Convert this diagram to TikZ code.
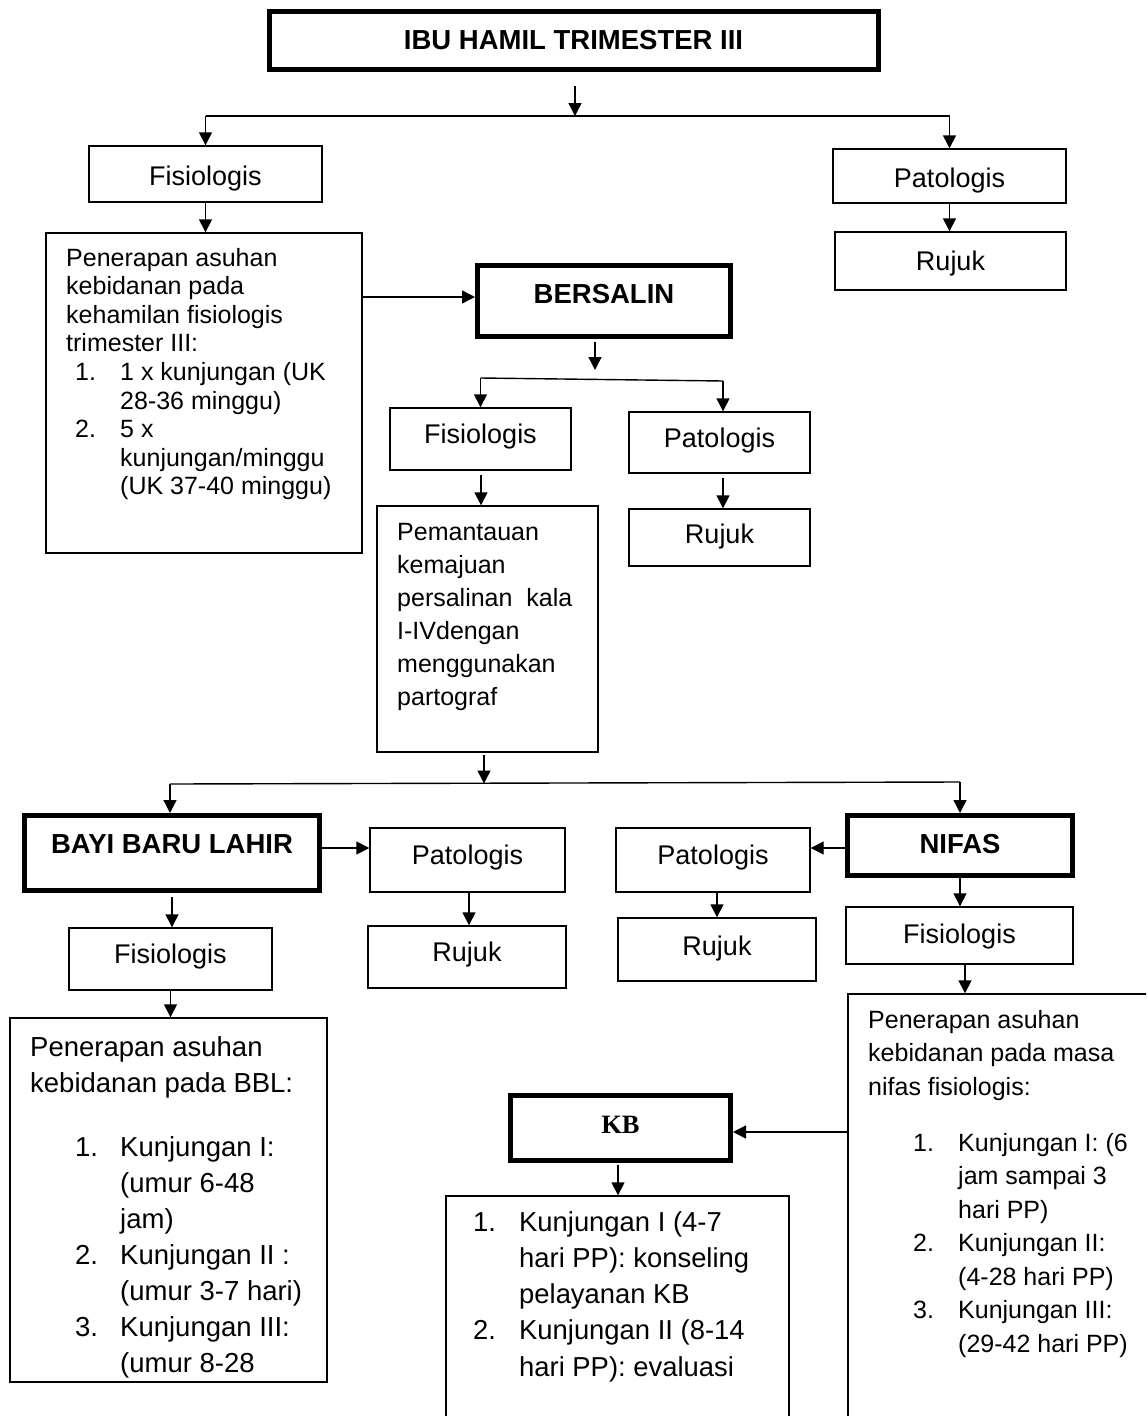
\documentclass[tikz,border=0pt]{standalone}
\usepackage{fontspec}
\setmainfont{Liberation Sans}
\newfontfamily\serifbf{Liberation Serif}
\usetikzlibrary{arrows.meta,fit}
\newcommand\numA[1]{\hspace*{9pt}\makebox[45pt][l]{#1}}
\newcommand\conA{\hspace*{54pt}}
\newcommand\numB[1]{\hspace*{45pt}\makebox[45pt][l]{#1}}
\newcommand\conB{\hspace*{90pt}}
\newcommand\numC[1]{\makebox[46pt][l]{#1}}
\newcommand\conC{\hspace*{46pt}}
\begin{document}
\begin{tikzpicture}[x=1pt,y=-1pt,
  ln/.style={line width=1.4pt},
  bx/.style={draw, line width=1.4pt, rectangle, inner sep=0pt},
  tbx/.style={draw, line width=5pt, rectangle, inner sep=0pt},
  arr/.style={line width=1.4pt, -{Triangle[width=13pt,length=13pt]}},
  lbl/.style={inner sep=0pt, anchor=base, font=\fontsize{27}{32}\selectfont},
  blbl/.style={inner sep=0pt, anchor=base, font=\fontsize{27.5}{32}\selectfont\bfseries},
  txt/.style={inner sep=0pt, anchor=base west}
]
\useasboundingbox (0,0) rectangle (1146,1416);
\clip (0,0) rectangle (1146,1416);

% ---------- boxes ----------
\node[tbx, fit={(269.5,11.5) (878.5,69.5)}] (ibu) {};
\node[bx, fit={(89,146) (322,202)}] (fis1) {};
\node[bx, fit={(833,149) (1066,203)}] (pat1) {};
\node[bx, fit={(835,232) (1066,290)}] (rujuk1) {};
\node[bx, fit={(46,233) (362,553)}] (lbox) {};
\node[tbx, fit={(477.5,265.5) (730.5,336.5)}] (bers) {};
\node[bx, fit={(390,408) (571,470)}] (fis2) {};
\node[bx, fit={(629,412) (810,473)}] (pat2) {};
\node[bx, fit={(377,506) (598,752)}] (pem) {};
\node[bx, fit={(629,509) (810,566)}] (rujuk2) {};
\node[tbx, fit={(24.5,815.5) (319.5,890.5)}] (bayi) {};
\node[bx, fit={(370,828) (565,892)}] (pat3) {};
\node[bx, fit={(368,926) (566,988)}] (rujuk3) {};
\node[bx, fit={(69,928) (272,990)}] (fis3) {};
\node[bx, fit={(10,1018) (327,1382)}] (bbl) {};
\node[bx, fit={(616,828) (810,892)}] (pat4) {};
\node[bx, fit={(618,918) (816,981)}] (rujuk4) {};
\node[tbx, fit={(847.5,815.5) (1072.5,875.5)}] (nifas) {};
\node[bx, fit={(846,907) (1073,964)}] (fis4) {};
\node[bx, fit={(848,994) (1170,1440)}] (nifasc) {};
\node[tbx, fit={(510.5,1095.5) (730.5,1160.5)}] (kb) {};
\node[bx, fit={(446,1196) (789,1440)}] (kbc) {};

% ---------- labels ----------
\node[blbl] (ibut) at (573.5,49) {IBU HAMIL TRIMESTER III};
\node[lbl] (fis1t) at (205.5,185) {Fisiologis};
\node[lbl] (pat1t) at (949.5,187) {Patologis};
\node[lbl] (rujuk1t) at (950.5,270) {Rujuk};
\node[blbl] (berst) at (604,303) {BERSALIN};
\node[lbl] (fis2t) at (480.5,443) {Fisiologis};
\node[lbl] (pat2t) at (719.5,447) {Patologis};
\node[lbl] (rujuk2t) at (719.5,543) {Rujuk};
\node[blbl] (bayit) at (172,853) {BAYI BARU LAHIR};
\node[lbl] (pat3t) at (467.5,864) {Patologis};
\node[lbl] (rujuk3t) at (467,961) {Rujuk};
\node[lbl] (fis3t) at (170.5,963) {Fisiologis};
\node[lbl] (pat4t) at (713,864) {Patologis};
\node[lbl] (rujuk4t) at (717,955) {Rujuk};
\node[blbl] (nifast) at (960,853) {NIFAS};
\node[lbl] (fis4t) at (959.5,943) {Fisiologis};
\node[inner sep=0pt, anchor=base, font=\fontsize{26.5}{32}\serifbf\bfseries] (kbt) at (620.5,1133) {KB};

% ---------- multi-line texts ----------
\node[txt, font=\fontsize{25}{28.6}\selectfont] (lboxt) at (66,266) {\begin{tabular}[t]{@{}l@{}}
Penerapan asuhan\\
kebidanan pada\\
kehamilan fisiologis\\
trimester III:\\
\numA{1.}1 x kunjungan (UK\\
\conA 28-36 minggu)\\
\numA{2.}5 x\\
\conA kunjungan/minggu\\
\conA (UK 37-40 minggu)
\end{tabular}};

\node[txt, font=\fontsize{25}{33}\selectfont] (pemt) at (397,540) {\begin{tabular}[t]{@{}l@{}}
Pemantauan\\
kemajuan\\
persalinan\ \ kala\\
I-IVdengan\\
menggunakan\\
partograf
\end{tabular}};

\node[txt, font=\fontsize{27.5}{36}\selectfont] (bblt) at (30,1056) {\begin{tabular}[t]{@{}l@{}}
Penerapan asuhan\\
kebidanan pada BBL:\\[28pt]
\numB{1.}Kunjungan I:\\
\conB (umur 6-48\\
\conB jam)\\
\numB{2.}Kunjungan II :\\
\conB (umur 3-7 hari)\\
\numB{3.}Kunjungan III:\\
\conB (umur 8-28
\end{tabular}};

\node[txt, font=\fontsize{25}{33.5}\selectfont] (nifasct) at (868,1028) {\begin{tabular}[t]{@{}l@{}}
Penerapan asuhan\\
kebidanan pada masa\\
nifas fisiologis:\\[22.5pt]
\numB{1.}Kunjungan I: (6\\
\conB jam sampai 3\\
\conB hari PP)\\
\numB{2.}Kunjungan II:\\
\conB (4-28 hari PP)\\
\numB{3.}Kunjungan III:\\
\conB (29-42 hari PP)
\end{tabular}};

\node[txt, font=\fontsize{27.4}{36.25}\selectfont] (kbct) at (473,1231) {\begin{tabular}[t]{@{}l@{}}
\numC{1.}Kunjungan I (4-7\\
\conC hari PP): konseling\\
\conC pelayanan KB\\
\numC{2.}Kunjungan II (8-14\\
\conC hari PP): evaluasi
\end{tabular}};

% ---------- connectors ----------
\coordinate (t0) at (575,86);
\coordinate (b1) at (575,116);
\coordinate (b1l) at (205.5,116);
\coordinate (b1r) at (949.5,116);
\draw[arr] (t0) -- (b1);
\draw[ln] (b1l) -- (b1r);
\draw[arr] (b1l) -- (fis1.north);
\draw[arr] (b1r) -- (pat1.north);
\draw[arr] (fis1.south) -- (fis1.south |- lbox.north);
\draw[arr] (pat1.south) -- (pat1.south |- rujuk1.north);

\coordinate (a1) at (362,297);
\draw[arr] (a1) -- (a1 -| bers.west);

\coordinate (t2) at (595,342);
\coordinate (t2e) at (595,370);
\draw[arr] (t2) -- (t2e);
\coordinate (b2l) at (480.5,378);
\coordinate (b2r) at (723,381);
\draw[ln] (b2l) -- (b2r);
\draw[arr] (b2l) -- (fis2.north);
\draw[arr] (b2r) -- (b2r |- pat2.north);
\coordinate (a2) at (481,475);
\draw[arr] (a2) -- (a2 |- pem.north);
\coordinate (a2r) at (723,478);
\draw[arr] (a2r) -- (a2r |- rujuk2.north);

\coordinate (t3) at (484,755);
\coordinate (b3) at (484,783.5);
\draw[arr] (t3) -- (b3);
\coordinate (b3l) at (170,784);
\coordinate (b3r) at (960,782);
\draw[ln] (b3l) -- (b3r);
\draw[arr] (b3l) -- (b3l |- bayi.north);
\draw[arr] (b3r) -- (nifas.north);

\coordinate (a3) at (322,848);
\draw[arr] (a3) -- (a3 -| pat3.west);
\coordinate (a4) at (172,897);
\draw[arr] (a4) -- (a4 |- fis3.north);
\draw[arr] (fis3.south) -- (fis3.south |- bbl.north);
\coordinate (a5) at (469,892);
\draw[arr] (a5) -- (a5 |- rujuk3.north);

\coordinate (a6) at (845,848);
\draw[arr] (a6) -- (a6 -| pat4.east);
\coordinate (a7) at (717,892);
\draw[arr] (a7) -- (a7 |- rujuk4.north);
\draw[arr] (nifas.south) -- (nifas.south |- fis4.north);
\coordinate (a8) at (965,964);
\draw[arr] (a8) -- (a8 |- nifasc.north);
\coordinate (a9) at (848,1132);
\draw[arr] (a9) -- (a9 -| kb.east);
\coordinate (a10) at (618,1165);
\draw[arr] (a10) -- (a10 |- kbc.north);
\end{tikzpicture}
\end{document}
